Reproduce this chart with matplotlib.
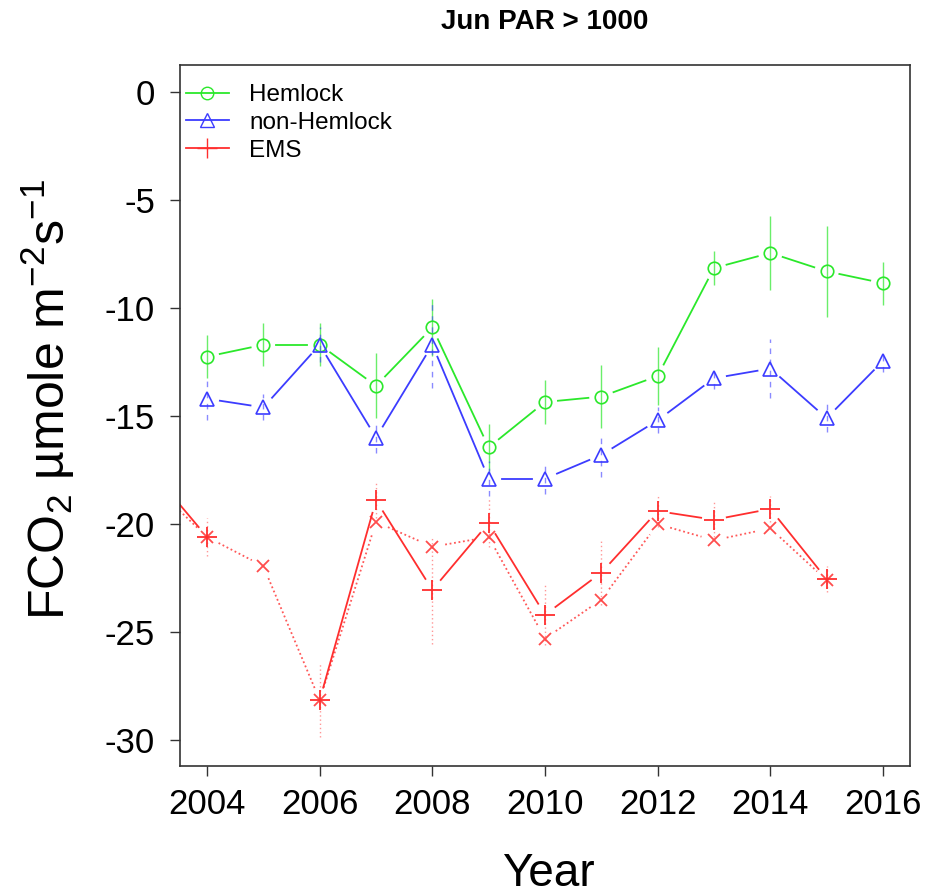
import numpy as np
import matplotlib
matplotlib.use("Agg")
import matplotlib.pyplot as plt
from matplotlib.lines import Line2D

plt.rcParams["font.family"] = ["Liberation Sans", "DejaVu Sans"]
plt.rcParams["mathtext.fontset"] = "custom"
plt.rcParams["mathtext.rm"] = "Liberation Sans"
plt.rcParams["mathtext.it"] = "Liberation Sans:italic"
plt.rcParams["mathtext.bf"] = "Liberation Sans:bold"
plt.rcParams["axes.unicode_minus"] = False

years = [2003, 2004, 2005, 2006, 2007, 2008, 2009, 2010, 2011, 2012, 2013, 2014, 2015, 2016]
nan = np.nan

hemlock = [nan, -12.25, -11.7, -11.7, -13.6, -10.9, -16.45, -14.35, -14.1, -13.15, -8.15, -7.45, -8.3, -8.85]
hemlock_err = [nan, 1.0, 1.0, 1.0, 1.5, 1.3, 1.1, 1.0, 1.45, 1.35, 0.8, 1.7, 2.1, 1.0]

nonhem = [nan, -14.2, -14.6, -11.7, -16.0, -11.7, -17.9, -17.9, -16.8, -15.2, -13.25, -12.8, -15.1, -12.45]
nonhem_err = [nan, 1.0, 0.6, 0.8, 0.7, 2.0, 0.8, 0.7, 1.0, 0.6, 0.5, 1.35, 0.65, 0.5]

ems = [-17.5, -20.6, nan, -28.15, -18.9, -23.05, -19.95, -24.2, -22.25, -19.4, -19.8, -19.3, -22.55, nan]
ems_err = [nan, 0.9, nan, 1.7, 0.8, 2.5, 1.1, 1.4, 1.5, 0.75, 0.8, 0.6, 0.6, nan]

ems2 = [-18.1, -20.6, -21.95, -28.15, -19.9, -21.05, -20.6, -25.3, -23.5, -20.0, -20.75, -20.2, -22.6, nan]

green = "#2be82b"
blue = "#3c3cff"
red = "#ff2e2e"

fig = plt.figure(figsize=(9.34, 8.96), dpi=100)
ax = fig.add_axes([180 / 934, 1 - 766 / 896, 730 / 934, 701 / 896])
ax.set_xlim(2003.52, 2016.48)
ax.set_ylim(-31.2, 1.25)


def gapped(x, y, gap=13, **kw):
    # R type="b": lines stop short of the points
    pts = ax.transData.transform(np.column_stack([x, y]))
    inv = ax.transData.inverted()
    for i in range(len(x) - 1):
        p0, p1 = pts[i], pts[i + 1]
        if np.isnan(p0).any() or np.isnan(p1).any():
            continue
        d = p1 - p0
        L = np.hypot(*d)
        if L <= 2 * gap:
            continue
        u = d / L
        a, b = inv.transform([p0 + u * gap, p1 - u * gap])
        ax.plot([a[0], b[0]], [a[1], b[1]], **kw)


def bars(x, y, e, **kw):
    y = np.array(y)
    e = np.array(e)
    ax.vlines(x, y - e, y + e, **kw)


bars(years, hemlock, hemlock_err, colors=green, lw=1.0, alpha=0.7)
bars(years, nonhem, nonhem_err, colors=blue, lw=1.0, alpha=0.6, linestyles=(0, (4, 4)))
bars(years, ems, ems_err, colors=red, lw=1.0, alpha=0.5, linestyles=(0, (1, 2)))

gapped(years, hemlock, color=green, lw=1.3)
gapped(years, nonhem, color=blue, lw=1.3)
gapped(years, ems, color=red, lw=1.3)
gapped(years, ems2, color=red, lw=1.3, ls=(0, (1, 1.5)), alpha=0.8)

ax.plot(years, hemlock, ls="none", marker="o", ms=9, mfc="none", mec=green, mew=1.2)
ax.plot(years, nonhem, ls="none", marker="^", ms=10, mfc="none", mec=blue, mew=1.2)
ax.plot(years, ems, ls="none", marker="+", ms=14, mec=red, mew=1.3)
ax.plot(years, ems2, ls="none", marker="x", ms=9, mec=red, mew=1.3, alpha=0.85)

ax.set_xticks(range(2004, 2017, 2))
ax.set_yticks(range(-30, 1, 5))
ax.tick_params(labelsize=25, length=7, width=1.0, color="#333333", direction="out")
ax.tick_params(axis="y", pad=11)
ax.tick_params(axis="x", pad=9)
for s in ax.spines.values():
    s.set_linewidth(1.2)
    s.set_color("#333333")

handles = [
    Line2D([], [], color=green, marker="o", mfc="none", ms=9, lw=1.3),
    Line2D([], [], color=blue, marker="^", mfc="none", ms=10, lw=1.3),
    Line2D([], [], color=red, marker="+", ms=14, lw=1.3),
]
ax.legend(handles, ["Hemlock", "non-Hemlock", "EMS"], loc="upper left",
          bbox_to_anchor=(6 / 730, 1 - 19 / 701), frameon=False, fontsize=17.5,
          handlelength=1.75, handletextpad=0.85, labelspacing=0.24,
          borderaxespad=0, borderpad=0)

fig.text(545 / 934, 1 - 22 / 896, "Jun PAR > 1000", ha="center", va="center",
         fontsize=20, fontweight="bold")
fig.text(548 / 934, 10 / 896, "Year", ha="center", va="baseline", fontsize=33)
fig.text(48 / 934, 1 - 400 / 896, "FCO$_2$ µmole m$^{-2}$s$^{-1}$", rotation=90,
         ha="center", va="center", fontsize=36)

fig.savefig("out.png", dpi=100)
